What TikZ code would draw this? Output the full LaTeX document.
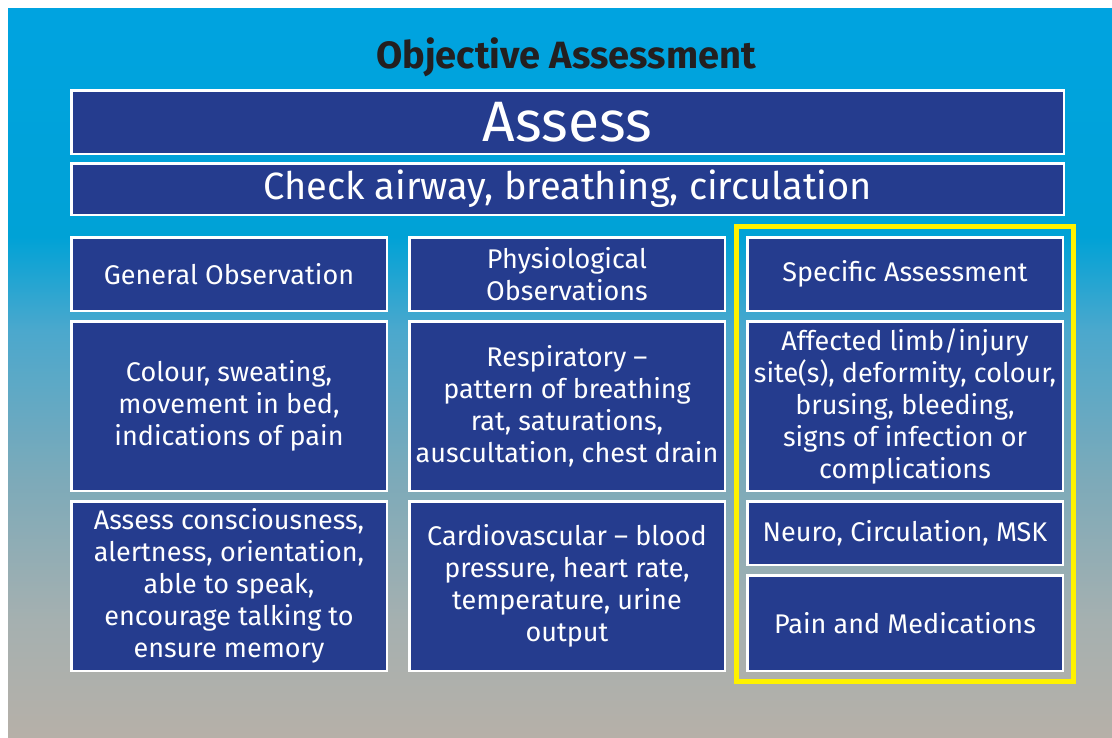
\documentclass[tikz,border=0pt]{standalone}
\usepackage{fontspec}
\setmainfont{Fira Sans}
\usetikzlibrary{positioning,fit}
\usepackage{xcolor}

\definecolor{boxblue}{RGB}{37,60,142}
\definecolor{titleink}{RGB}{35,31,32}
\definecolor{hiyellow}{RGB}{255,242,0}
\definecolor{skyA}{RGB}{0,163,224}
\definecolor{skyB}{RGB}{0,162,214}
\definecolor{skyC}{RGB}{75,168,205}
\definecolor{skyD}{RGB}{125,170,185}
\definecolor{skyE}{RGB}{165,176,176}
\definecolor{skyF}{RGB}{182,176,168}
\pgfdeclareverticalshading{skyfade}{100bp}{color(0bp)=(skyF); color(25bp)=(skyF);
  color(33bp)=(skyE); color(42.6bp)=(skyD); color(52.9bp)=(skyC);
  color(59.3bp)=(skyB); color(75bp)=(skyA); color(100bp)=(skyA)}

\begin{document}
\begin{tikzpicture}[
  x=1pt, y=-1pt,
  cell/.style={draw=white, line width=2.5pt, fill=boxblue, text=white, align=center,
               minimum width=315.5pt, inner sep=0pt, font=\fontsize{27}{32}\selectfont},
  banner/.style={cell, minimum width=992.5pt},
  frame/.style={draw=hiyellow, line width=5pt, inner sep=9.5pt}
]
  \useasboundingbox (0,0) rectangle (1112,737);
  \fill[white] (0,0) rectangle (1112,737);
  \shade[shading=skyfade] (8,8) rectangle (1112,737);

  \node[font=\bfseries\fontsize{38}{40}\selectfont, text=titleink] (title) at (566,57) {Objective Assessment};
  \node[banner, minimum height=63.5pt, font=\fontsize{57}{60}\selectfont] (assess) at (567.5,122) {Assess};
  \node[banner, minimum height=51.5pt, font=\fontsize{38}{40}\selectfont, below=7pt of assess] (abc)
    {Check airway, breathing, circulation};

  \node[cell, minimum height=73.5pt] (genobs) at (229,274) {General Observation};
  \node[cell, minimum height=169.5pt, below=8pt of genobs] (genlook)
    {Colour, sweating,\\movement in bed,\\indications of pain};
  \node[cell, minimum height=169.5pt, below=8pt of genlook] (genmind)
    {Assess consciousness,\\alertness, orientation,\\able to speak,\\encourage talking to\\ensure memory};

  \node[cell, minimum height=73.5pt, right=20pt of genobs] (physobs) {Physiological\\Observations};
  \node[cell, minimum height=169.5pt, below=8pt of physobs] (resp)
    {Respiratory --\\pattern of breathing\\rat, saturations,\\auscultation, chest drain};
  \node[cell, minimum height=169.5pt, below=8pt of resp] (cardio)
    {Cardiovascular -- blood\\pressure, heart rate,\\temperature, urine\\output};

  \node[cell, minimum height=73.5pt, right=20pt of physobs] (specobs) {Specific Assessment};
  \node[cell, minimum height=169.5pt, below=8pt of specobs] (specsite)
    {Affected limb/injury\\site(s), deformity, colour,\\brusing, bleeding,\\signs of infection or\\complications};
  \node[cell, minimum height=63.5pt, below=8pt of specsite] (neuro) {Neuro, Circulation, MSK};
  \node[cell, minimum height=95.5pt, below=8pt of neuro] (pain) {Pain and Medications};

  \node[frame, fit=(specobs)(pain)] (specframe) {};
\end{tikzpicture}
\end{document}
